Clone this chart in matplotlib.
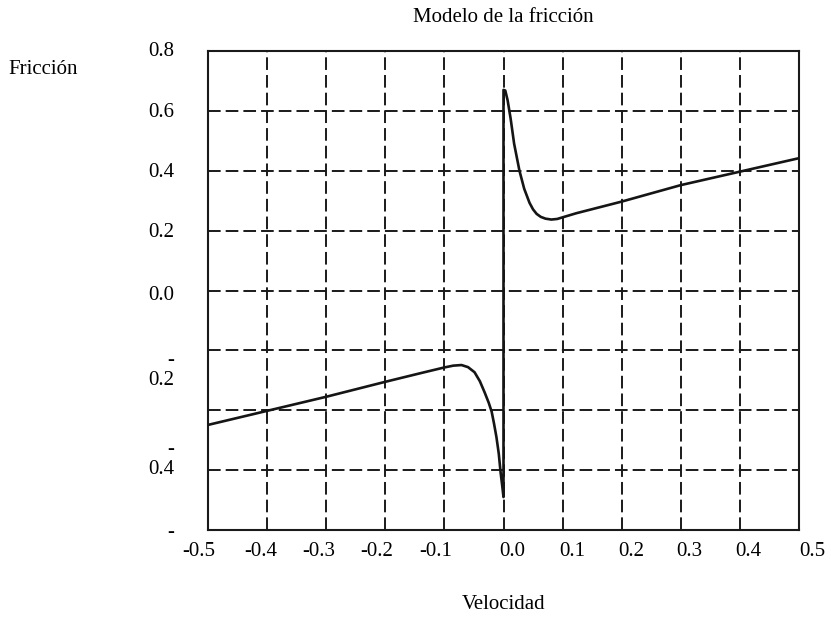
import matplotlib
matplotlib.use("Agg")
import matplotlib.pyplot as plt
from matplotlib.transforms import blended_transform_factory

# ---- data ----
vel_neg = [-0.5, -0.4, -0.3, -0.2, -0.138, -0.1, -0.085, -0.071, -0.06, -0.049,
           -0.04, -0.032, -0.025, -0.020, -0.016, -0.012, -0.008, -0.005, -0.002, 0.0]
fric_neg = [-0.449, -0.402, -0.355, -0.305, -0.275, -0.257, -0.251, -0.249, -0.256, -0.273,
            -0.303, -0.340, -0.375, -0.405, -0.445, -0.489, -0.545, -0.606, -0.655, -0.69]
vel_pos = [0.0, 0.003, 0.007, 0.012, 0.018, 0.027, 0.035, 0.044, 0.050, 0.056,
           0.063, 0.071, 0.081, 0.091, 0.101, 0.123, 0.2, 0.3, 0.4, 0.5]
fric_pos = [0.670, 0.668, 0.635, 0.575, 0.49, 0.40, 0.34, 0.293, 0.271, 0.256,
            0.246, 0.240, 0.237, 0.239, 0.245, 0.258, 0.297, 0.352, 0.397, 0.442]

x_grid = [-0.5, -0.4, -0.3, -0.2, -0.1, 0.0, 0.1, 0.2, 0.3, 0.4, 0.5]
y_grid = [0.8, 0.6, 0.4, 0.2, 0.0, -0.2, -0.4, -0.6, -0.8]

# tick labels as they appear in the (scanned) reference
x_tick_pos = [-0.516, -0.411, -0.312, -0.214, -0.115, 0.015, 0.116, 0.216, 0.315, 0.415, 0.523]
x_tick_labels = ["-0.5", "-0.4", "-0.3", "-0.2", "-0.1", "0.0", "0.1", "0.2", "0.3", "0.4", "0.5"]
y_tick_pos = [0.797, 0.593, 0.393, 0.193, -0.017, -0.268, -0.565, -0.810]
y_tick_labels = ["0.8", "0.6", "0.4", "0.2", "0.0", "-\n0.2", "-\n0.4", "-"]

title = "Modelo de la fricción"
xlabel = "Velocidad"
ylabel = "Fricción"

plt.rcParams['font.family'] = ['Liberation Serif', 'DejaVu Serif']
plt.rcParams['axes.unicode_minus'] = False

fig = plt.figure(figsize=(8.31, 6.23), dpi=100)
ax = fig.add_axes([208/831, 1-530/623, (799-208)/831, (530-51)/623])

ax.plot(vel_neg + vel_pos, fric_neg + fric_pos, color='#151515', lw=1.9,
        solid_joinstyle='round', solid_capstyle='butt', zorder=3)

ax.set_xticks(x_grid)
ax.set_xticklabels([])
ax.set_yticks(y_grid)
ax.set_yticklabels([])
ax.set_xlim(-0.5, 0.5)
ax.set_ylim(-0.8, 0.8)
ax.tick_params(which='both', length=0)

# tick label texts placed where the reference shows them
tx = blended_transform_factory(ax.transData, ax.transAxes)
for xp, lab in zip(x_tick_pos, x_tick_labels):
    ax.text(xp, -0.044, lab, transform=tx, ha='center', va='center',
            fontsize=15, clip_on=False)
ty = blended_transform_factory(ax.transAxes, ax.transData)
for yp, lab in zip(y_tick_pos, y_tick_labels):
    ax.text(-0.0575, yp, lab, transform=ty, ha='right', va='center',
            fontsize=15, linespacing=1.05, clip_on=False)

ax.grid(True, which='major', color='#1a1a1a', lw=1.4, linestyle=(0, (6.5, 2.6)))
for s in ax.spines.values():
    s.set_color('#1a1a1a')
    s.set_linewidth(1.5)

ax.set_title(title, fontsize=15, pad=21)
ax.set_xlabel(xlabel, fontsize=15, labelpad=43)
fig.text(8/831, 1-70/623, ylabel, fontsize=15, ha='left', va='center')

fig.savefig("out.png", dpi=100, facecolor='white')
